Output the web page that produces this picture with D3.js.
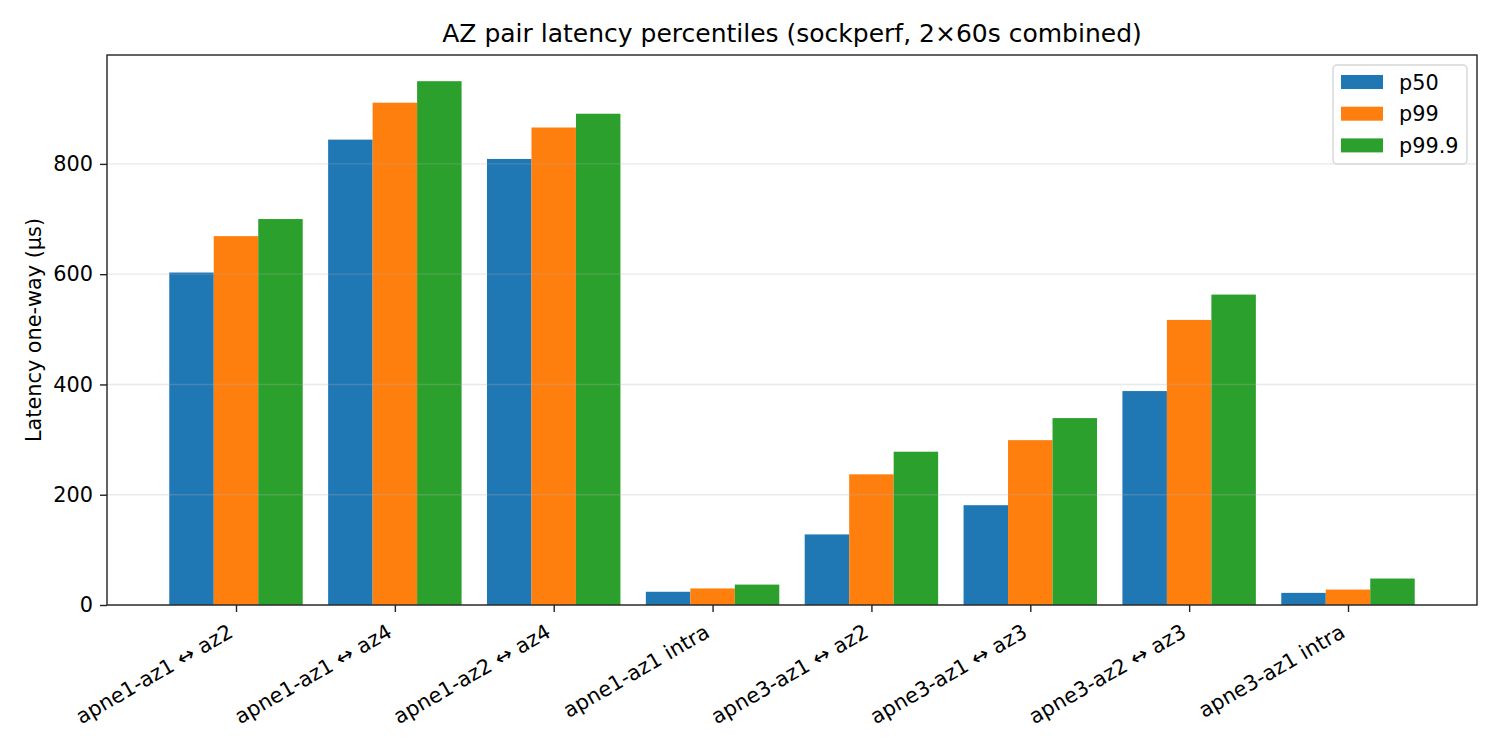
<!DOCTYPE html>
<html>
<head>
<meta charset="utf-8">
<script src="https://cdn.jsdelivr.net/npm/d3@7"></script>
<style>
  body { margin: 0; background: #fff; }
  svg { display: block; font-family: "DejaVu Sans", sans-serif; }
</style>
</head>
<body>
<div id="chart"></div>
<script>
// data
const pairs = ["apne1-az1 \u2194 az2", "apne1-az1 \u2194 az4", "apne1-az2 \u2194 az4", "apne1-az1 intra",
               "apne3-az1 \u2194 az2", "apne3-az1 \u2194 az3", "apne3-az2 \u2194 az3", "apne3-az1 intra"];
const p50  = [603, 844, 809, 24, 128, 181, 388, 22];
const p99  = [669, 911, 866, 30, 237, 299, 517, 28];
const p999 = [700, 950, 891, 37, 278, 339, 563, 48];
const seriesNames = ["p50", "p99", "p99.9"];
const seriesColors = ["#1f77b4", "#ff7f0e", "#2ca02c"];
const yTicks = [0, 200, 400, 600, 800];

const width = 1500, height = 750;
const m = { left: 107, right: 1477, top: 55, bottom: 605 };
const barW = 0.28;
const fs = "20.8px";

const svg = d3.select("#chart").append("svg").attr("width", width).attr("height", height);

const series = [p50, p99, p999];
const maxV = d3.max(series.flat());
const n = pairs.length;
const pad = (n - 1 + 3 * barW) * 0.05;

const x = d3.scaleLinear()
    .domain([-1.5 * barW - pad, n - 1 + 1.5 * barW + pad])
    .range([m.left, m.right]);
const y = d3.scaleLinear().domain([0, maxV * 1.05]).range([m.bottom, m.top]);

// bars
series.forEach((vals, si) => {
    svg.append("g").selectAll("rect")
        .data(vals)
        .enter().append("rect")
        .attr("x", (d, i) => x(i + (si - 1) * barW - barW / 2))
        .attr("width", (d, i) => x(i + (si - 1) * barW + barW / 2) - x(i + (si - 1) * barW - barW / 2))
        .attr("y", d => y(d))
        .attr("height", d => y(0) - y(d))
        .attr("fill", seriesColors[si]);
});

// horizontal grid, drawn over the bars
svg.append("g").selectAll("line")
    .data(yTicks)
    .enter().append("line")
    .attr("x1", m.left).attr("x2", m.right)
    .attr("y1", d => y(d)).attr("y2", d => y(d))
    .attr("stroke", "#b0b0b0").attr("stroke-opacity", 0.28).attr("stroke-width", 1.4);

// frame
svg.append("rect")
    .attr("x", m.left).attr("y", m.top)
    .attr("width", m.right - m.left).attr("height", m.bottom - m.top)
    .attr("fill", "none").attr("stroke", "#222").attr("stroke-width", 1.4);

// y axis
const yAxis = svg.append("g").attr("transform", `translate(${m.left},0)`)
    .call(d3.axisLeft(y).tickValues(yTicks).tickSize(7).tickPadding(7).tickFormat(d3.format("d")));
yAxis.select(".domain").remove();
yAxis.selectAll(".tick line").attr("stroke", "#222").attr("stroke-width", 1.4);
yAxis.selectAll(".tick text").attr("fill", "#000").style("font-size", fs).style("font-family", "DejaVu Sans");

// x axis
const xAxis = svg.append("g").attr("transform", `translate(0,${m.bottom})`)
    .call(d3.axisBottom(x).tickValues(d3.range(n)).tickSize(7).tickFormat(i => pairs[i]));
xAxis.select(".domain").remove();
xAxis.selectAll(".tick line").attr("stroke", "#222").attr("stroke-width", 1.4);
xAxis.selectAll(".tick text")
    .attr("fill", "#000")
    .style("font-size", fs).style("font-family", "DejaVu Sans")
    .attr("text-anchor", "end")
    .attr("dy", null)
    .attr("x", -2).attr("y", 31)
    .attr("transform", "rotate(-30, -2, 31)");

// y label
svg.append("text")
    .attr("transform", `translate(41,${(m.top + m.bottom) / 2}) rotate(-90)`)
    .attr("text-anchor", "middle")
    .style("font-size", fs)
    .text("Latency one-way (\u00b5s)");

// title
svg.append("text")
    .attr("x", (m.left + m.right) / 2).attr("y", 42)
    .attr("text-anchor", "middle")
    .style("font-size", "25px")
    .text("AZ pair latency percentiles (sockperf, 2\u00d760s combined)");

// legend
const lg = svg.append("g");
lg.append("rect")
    .attr("x", 1333).attr("y", 65).attr("width", 134).attr("height", 99).attr("rx", 4)
    .attr("fill", "#fff").attr("fill-opacity", 0.8)
    .attr("stroke", "#d6d6d6").attr("stroke-width", 1.4);
seriesNames.forEach((name, i) => {
    const cy = 82 + i * 31.7;
    lg.append("rect").attr("x", 1341).attr("y", cy - 7).attr("width", 42).attr("height", 14)
        .attr("fill", seriesColors[i]);
    lg.append("text").attr("x", 1399).attr("y", cy + 7.5).style("font-size", fs).text(name);
});
</script>
</body>
</html>
